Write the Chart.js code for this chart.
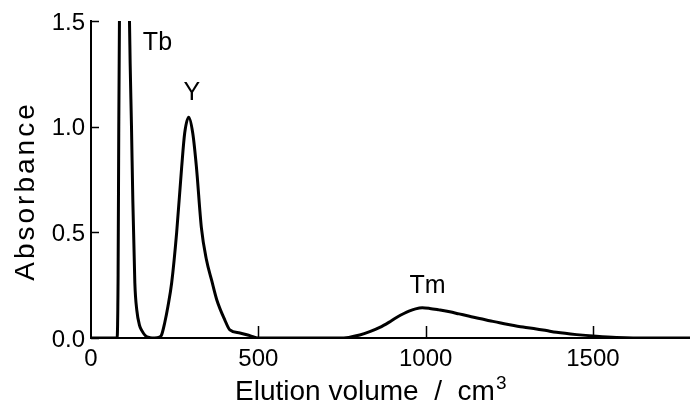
<!DOCTYPE html>
<html>
<head>
<meta charset="utf-8">
<script src="https://cdn.jsdelivr.net/npm/chart.js@4.4.1/dist/chart.umd.min.js"></script>
<style>
  html, body { margin: 0; padding: 0; background: #fff; }
  #wrap { width: 690px; height: 405px; }
</style>
</head>
<body>
<div id="wrap"><canvas id="chart" width="690" height="405"></canvas></div>
<script>
// elution curve (volume in cm3, absorbance)
const volume = [0, 60, 78, 81, 83, 85, 87, 100, 112, 115, 117, 121, 125, 131, 137, 145, 152, 162, 176, 190,
  205, 211, 220, 230, 241, 256, 271, 280, 292, 304, 315, 330, 345, 361, 376, 400, 415, 445, 475, 500,
  600, 740, 770, 803, 833, 863, 890, 913, 935, 952, 970, 990, 1012, 1040, 1072, 1100, 1131, 1161, 1191,
  1221, 1251, 1291, 1331, 1361, 1391, 1451, 1510, 1570, 1620, 1790];
const absorbance = [0, 0, 0, 0.3, 1.0, 1.5, 1.62, 1.75, 1.62, 1.5, 1.3, 1.0, 0.65, 0.26, 0.13, 0.06, 0.035, 0.012, 0.002, 0,
  0.005, 0.015, 0.07, 0.15, 0.26, 0.50, 0.81, 0.97, 1.045, 0.97, 0.81, 0.52, 0.37, 0.27, 0.18, 0.085, 0.038, 0.024, 0.011, 0,
  0, 0, 0.003, 0.014, 0.030, 0.05, 0.074, 0.097, 0.116, 0.128, 0.138, 0.143, 0.14, 0.133, 0.124, 0.114, 0.103, 0.092, 0.082,
  0.072, 0.063, 0.052, 0.043, 0.035, 0.027, 0.016, 0.008, 0.002, 0, 0];

const xTicks = [0, 500, 1000, 1500];
const yTicks = [0, 0.5, 1.0, 1.5];

// peak names and where they sit (data units)
const peakNames = ['Tb', 'Y', 'Tm'];
const peakX     = [155, 301, 1006];
const peakY     = [1.363, 1.126, 0.213];
const peakAlign = ['left', 'center', 'center'];

const FONT = '"Liberation Sans", Arial, Helvetica, sans-serif';

const points = volume.map((v, i) => ({ x: v, y: absorbance[i] }));

// inward ticks, peak names and both axis titles
const extras = {
  id: 'extras',
  afterDraw(chart) {
    const ctx = chart.ctx, x = chart.scales.x, y = chart.scales.y;
    ctx.save();
    ctx.strokeStyle = '#000';
    ctx.lineWidth = 1.5;
    ctx.beginPath();
    y.ticks.forEach(t => {
      const py = Math.round(y.getPixelForValue(t.value)) + 0.5;
      ctx.moveTo(x.left, py); ctx.lineTo(x.left + 8, py);
    });
    x.ticks.forEach(t => {
      if (t.value === 0) return;
      const px = Math.round(x.getPixelForValue(t.value)) + 0.5;
      ctx.moveTo(px, y.bottom); ctx.lineTo(px, y.bottom - 12);
    });
    ctx.stroke();

    ctx.fillStyle = '#000';
    ctx.font = '25px ' + FONT;
    ctx.textBaseline = 'alphabetic';
    peakNames.forEach((name, i) => {
      ctx.textAlign = peakAlign[i];
      ctx.fillText(name, x.getPixelForValue(peakX[i]), y.getPixelForValue(peakY[i]));
    });

    // x title with a real superscript
    ctx.textAlign = 'left';
    ctx.font = '28px ' + FONT;
    const main = 'Elution volume  /  cm';
    ctx.fillText(main, 235, 400);
    const w = ctx.measureText(main).width;
    ctx.font = '19px ' + FONT;
    ctx.fillText('3', 235 + w + 1, 389);

    ctx.translate(26, 191);
    ctx.rotate(-Math.PI / 2);
    ctx.font = '28px ' + FONT;
    ctx.letterSpacing = '3px';
    ctx.textAlign = 'center';
    ctx.textBaseline = 'middle';
    ctx.fillText('Absorbance', 0, 0);
    ctx.restore();
  }
};

new Chart(document.getElementById('chart').getContext('2d'), {
  type: 'line',
  data: {
    datasets: [{
      data: points,
      borderColor: '#000',
      borderWidth: 3,
      pointRadius: 0,
      fill: false,
      cubicInterpolationMode: 'monotone'
    }]
  },
  options: {
    responsive: false,
    devicePixelRatio: 1,
    animation: false,
    layout: { padding: { top: 21, right: 0, left: 0, bottom: 0 } },
    plugins: { legend: { display: false }, tooltip: { enabled: false } },
    scales: {
      x: {
        type: 'linear',
        min: 0, max: 1790,
        grid: { display: false, drawTicks: false },
        border: { display: true, color: '#000', width: 2 },
        afterBuildTicks(s) { s.ticks = xTicks.map(v => ({ value: v })); },
        ticks: { color: '#000', padding: 7, maxRotation: 0, autoSkip: false, callback: v => String(v),
                 font: { family: FONT, size: 24 } },
        afterFit(s) { s.height = 67; s.paddingLeft = 0; s.paddingRight = 0; }
      },
      y: {
        min: 0, max: 1.5,
        grid: { display: false, drawTicks: false },
        border: { display: true, color: '#000', width: 2 },
        afterBuildTicks(s) { s.ticks = yTicks.map(v => ({ value: v })); },
        ticks: { color: '#000', padding: 6, labelOffset: 2, autoSkip: false, callback: v => v.toFixed(1),
                 font: { family: FONT, size: 24 } },
        afterFit(s) { s.width = 91; s.paddingTop = 0; s.paddingBottom = 0; }
      }
    }
  },
  plugins: [extras]
});
</script>
</body>
</html>
